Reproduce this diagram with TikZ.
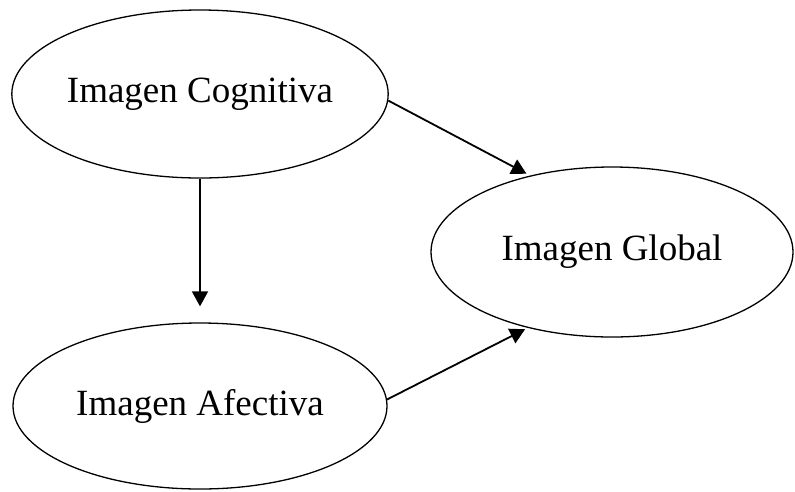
\documentclass[tikz,border=0pt]{standalone}
\usepackage{fontspec}
\setmainfont{Liberation Serif}
\usetikzlibrary{arrows.meta,shapes.geometric}

\begin{document}
\begin{tikzpicture}[x=1pt,y=-1pt,
    imgnode/.style={ellipse,draw,line width=1.3pt,inner sep=0pt,
        minimum width=374pt,minimum height=168pt,
        font=\fontsize{37}{40}\selectfont},
    link/.style={line width=1.8pt,-{Triangle[length=15pt,width=16pt]}}]

\useasboundingbox (0,0) rectangle (795,491);

% Ellipses
\node[imgnode] (cog) at (200,94) {Imagen Cognitiva};
\node[imgnode,minimum height=166pt] (afe) at (200,406) {Imagen Afectiva};
\node[imgnode,minimum width=362pt,minimum height=170pt] (glob) at (612,252) {Imagen Global};

% Arrows
\draw[link,shorten >=16pt] (cog.south) -- (afe.north);
\draw[link,shorten >=4pt] (cog.-2) -- (glob.137);
\draw[link,shorten >=3pt] (afe.2) -- (glob.222);

\end{tikzpicture}
\end{document}
